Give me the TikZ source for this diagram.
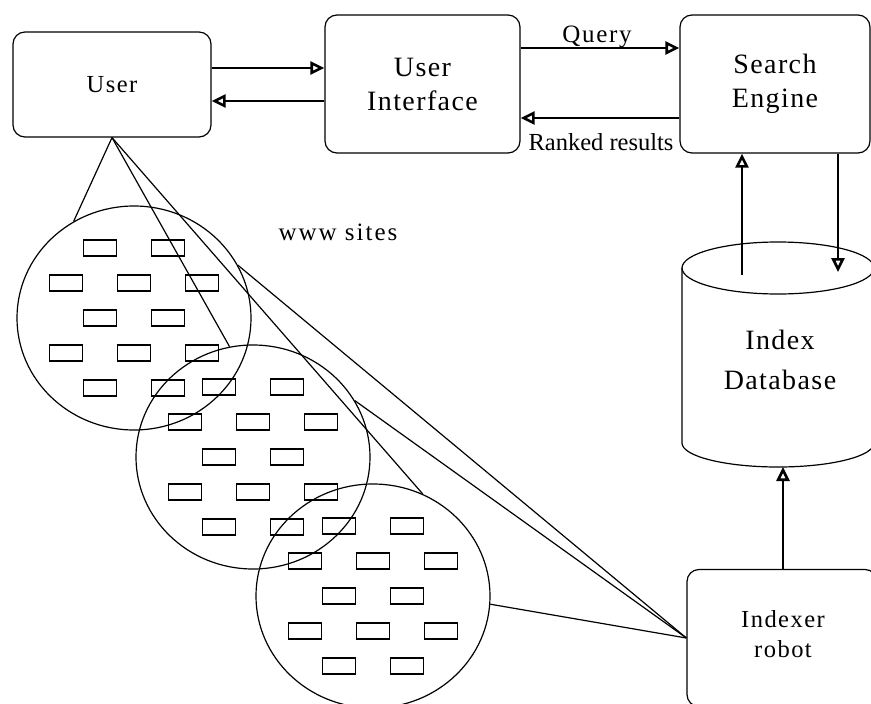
\documentclass[tikz,border=0pt]{standalone}
\usepackage{fontspec}
\setmainfont{Liberation Serif}
\usetikzlibrary{arrows.meta,shapes.geometric}
\begin{document}
\begin{tikzpicture}[x=1pt,y=-1pt,line width=1.2pt,
  box/.style={draw,rounded corners=12pt,inner sep=0pt,align=center},
  site/.style={draw,ellipse,minimum width=234pt,minimum height=224pt,inner sep=0pt},
  page/.style={draw,minimum width=33pt,minimum height=16pt,inner sep=0pt,line width=1.5pt},
  tip/.style={-{Triangle[open,length=14pt,width=13pt,line width=2.6pt]}},
  big/.style={font=\fontsize{28}{34}\selectfont\addfontfeature{LetterSpace=5}},
  small/.style={font=\fontsize{24.5}{30}\selectfont\addfontfeature{LetterSpace=6}},
  lbl/.style={font=\fontsize{24.5}{26}\selectfont}]
\useasboundingbox (0,0) rectangle (871,704);

% boxes
\node[box,minimum width=198pt,minimum height=105pt,small] (user) at (112,84.5) {User};
\node[box,minimum width=195pt,minimum height=138pt,big] (ui) at (422.5,84) {User\\Interface};
\node[box,minimum width=190pt,minimum height=138pt,big] (se) at (775,84) {Search\\Engine};
\node[box,minimum width=190pt,minimum height=137pt] (robot) at (782,638) {};
\node[small,align=center] (robottext) at (783,634) {Indexer\\robot};

% database cylinder
\draw (778,268) ellipse [x radius=96pt,y radius=26pt];
\draw (682,268) -- (682,443) arc[start angle=180,end angle=360,x radius=96pt,y radius=24pt] -- (874,268);
\node[align=center,font=\fontsize{28}{40}\selectfont\addfontfeature{LetterSpace=5}] (db) at (780,360) {Index\\Database};
\coordinate (dbin) at (742,275);
\coordinate (dbout) at (838,272);
\coordinate (dbbot) at (783,467);

% levels
\coordinate (yA) at (0,68);
\coordinate (yB) at (0,101);
\coordinate (yC) at (0,48);
\coordinate (yD) at (0,118);

% arrows
\draw[tip] (user.east |- yA) -- (ui.west |- yA);
\draw[tip] (ui.west |- yB) -- (user.east |- yB);
\draw[tip] (ui.east |- yC) -- (se.west |- yC);
\draw[tip] (se.west |- yD) -- (ui.east |- yD);
\node[font=\fontsize{25}{26}\selectfont\addfontfeature{LetterSpace=7},anchor=base] (query) at (597,42) {Query};
\node[lbl,anchor=base] (ranked) at (601,150) {Ranked results};
\draw[tip] (dbin) -- (dbin |- se.south);
\draw[tip] (dbout |- se.south) -- (dbout);
\draw[tip] (dbbot |- robot.north) -- (dbbot);

% www sites
\node[font=\fontsize{25}{28}\selectfont\addfontfeature{LetterSpace=8},anchor=base] (www) at (338,240) {www sites};
\node[site] (c1) at (134,318) {};
\node[site] (c2) at (253,457) {};
\node[site] (c3) at (373,596) {};
\foreach \c/\cx/\cy in {1/134/318,2/253/457,3/373/596}{
  \foreach \dx/\dy [count=\i] in {-34/-70,34/-70,-68/-35,0/-35,68/-35,-34/0,34/0,-68/35,0/35,68/35,-34/70,34/70}
    \node[page] (p\c-\i) at (\cx+\dx,\cy+\dy) {};
}

% connections
\draw (user.south) -- (c1.122);
\draw (user.south) -- (c2.102);
\draw (user.south) -- (c3.64);
\draw (robot.west) -- (c1.27);
\draw (robot.west) -- (c2.29);
\draw (robot.west) -- (c3.-4);
\end{tikzpicture}
\end{document}
